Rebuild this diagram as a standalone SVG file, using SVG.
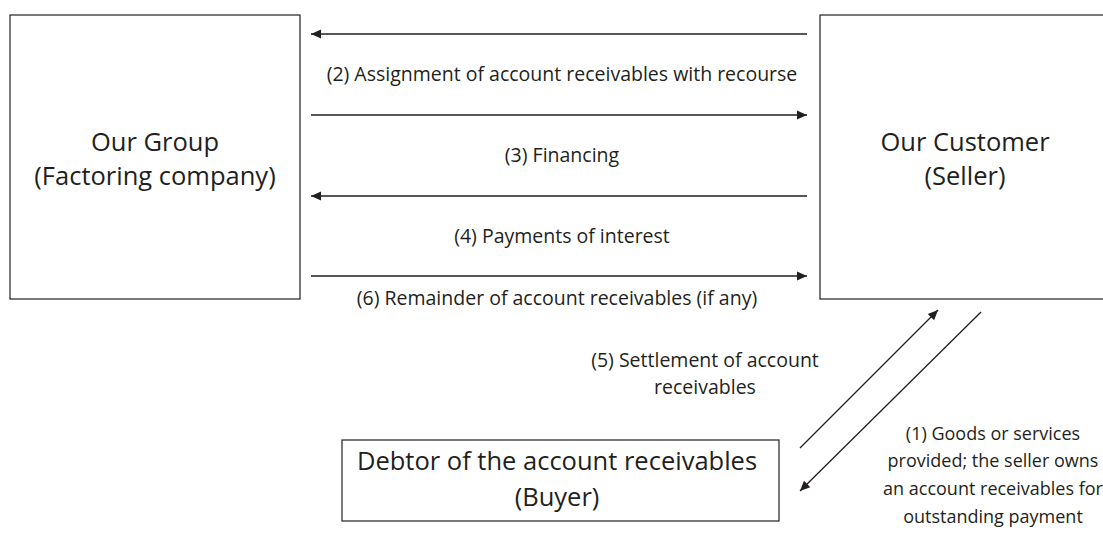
<svg xmlns="http://www.w3.org/2000/svg" width="1103" height="543" viewBox="0 0 1103 543">
<style>
.box{fill:#fff;stroke:#231f20;stroke-width:1.2}
.big{font-family:"Open Sans","Noto Sans",sans-serif;font-size:25.5px;fill:#231f20;text-anchor:middle}
.lbl{font-family:"Open Sans","Noto Sans",sans-serif;font-size:19.5px;fill:#231f20;text-anchor:middle}
.sm{font-size:18px}
.ln{stroke:#231f20;stroke-width:1.3;fill:none}
</style>
<defs>
<marker id="ah" viewBox="0 0 10 10" refX="10" refY="5" markerWidth="10" markerHeight="10" markerUnits="userSpaceOnUse" orient="auto">
<path d="M0,0.5 L10,5 L0,9.5 Z" fill="#231f20"/>
</marker>
</defs>
<rect width="1103" height="543" fill="#fff"/>
<g id="group">
<rect class="box" x="10" y="15" width="290" height="284"/>
<text class="big" x="155" y="151">Our Group</text>
<text class="big" x="155" y="185">(Factoring company)</text>
</g>
<g id="customer">
<rect class="box" x="820" y="15" width="295" height="284"/>
<text class="big" x="965" y="151">Our Customer</text>
<text class="big" x="965" y="185">(Seller)</text>
</g>
<g id="debtor">
<rect class="box" x="342" y="440" width="437" height="81"/>
<text class="big" x="557" y="470">Debtor of the account receivables</text>
<text class="big" x="557" y="506">(Buyer)</text>
</g>
<g id="connectors">
<line class="ln" x1="807" y1="34" x2="311" y2="34" marker-end="url(#ah)"/>
<line class="ln" x1="311" y1="115" x2="807" y2="115" marker-end="url(#ah)"/>
<line class="ln" x1="807" y1="196" x2="311" y2="196" marker-end="url(#ah)"/>
<line class="ln" x1="311" y1="276" x2="807" y2="276" marker-end="url(#ah)"/>
<line class="ln" x1="800" y1="448" x2="938" y2="310" marker-end="url(#ah)"/>
<line class="ln" x1="981" y1="312" x2="800" y2="491" marker-end="url(#ah)"/>
</g>
<g id="labels">
<text class="lbl" x="562" y="81">(2) Assignment of account receivables with recourse</text>
<text class="lbl" x="562" y="162">(3) Financing</text>
<text class="lbl" x="562" y="243">(4) Payments of interest</text>
<text class="lbl" x="557" y="305">(6) Remainder of account receivables (if any)</text>
<text class="lbl" x="705" y="367">(5) Settlement of account</text>
<text class="lbl" x="705" y="394">receivables</text>
<text class="lbl sm" x="993" y="440">(1) Goods or services</text>
<text class="lbl sm" x="993" y="467">provided; the seller owns</text>
<text class="lbl sm" x="993" y="495">an account receivables for</text>
<text class="lbl sm" x="993" y="523">outstanding payment</text>
</g>
</svg>
